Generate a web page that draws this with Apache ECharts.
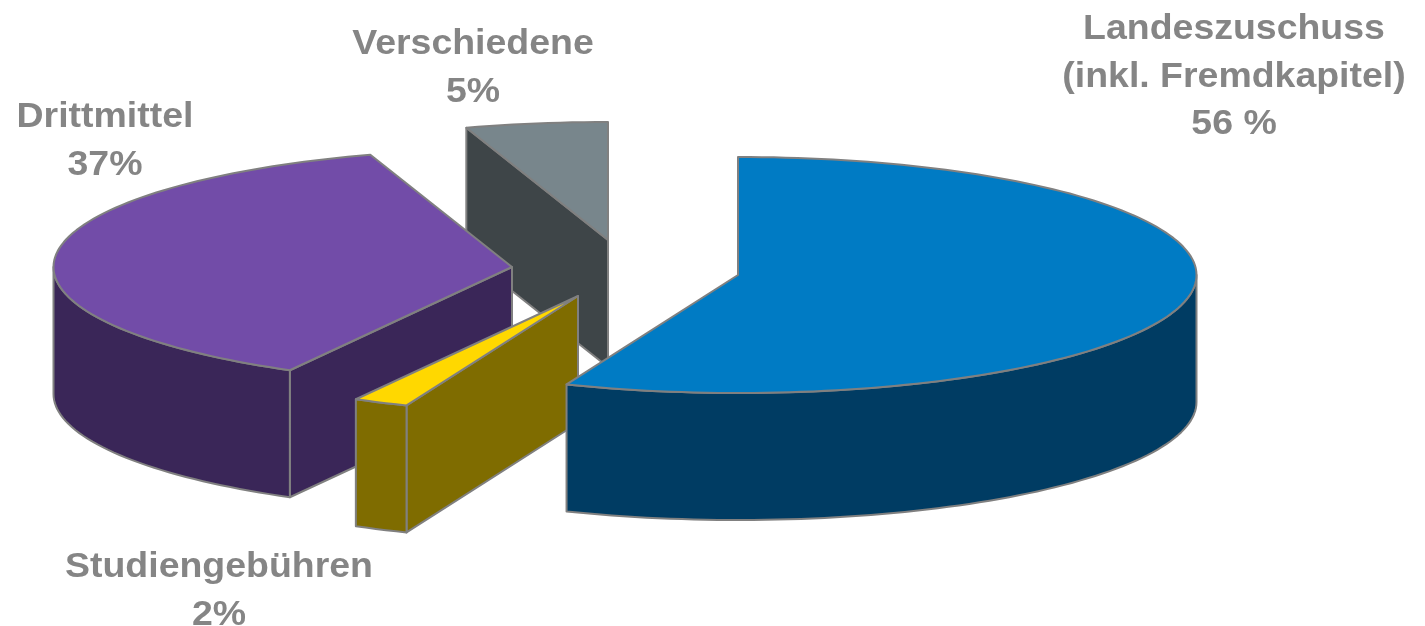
<!DOCTYPE html>
<html><head><meta charset="utf-8">
<style>html,body{margin:0;padding:0;background:#fff}#c{width:1425px;height:626px}</style>
<script src="https://cdn.jsdelivr.net/npm/echarts@6/dist/echarts.min.js"></script>
</head><body><div id="c"></div>
<script>
const categories = ['Landeszuschuss\n(inkl. Fremdkapitel)', 'Studiengebühren', 'Drittmittel', 'Verschiedene'];
const shares = [56.1, 1.95, 36.95, 5.0];
const shareLabels = ['56 %', '2%', '37%', '5%'];

// Styling and layout
const topColors = ['#007bc4', '#ffd800', '#724ca8', '#78868c'];
const sideColors = ['#003c63', '#7f6c00', '#3a2658', '#3e4548'];
const apexes = [[738, 275], [578, 296], [512, 267], [608, 240]];
const labelAnchors = [[1234, 6], [219, 544], [105, 94], [473, 21]];
const rx = 458.5, ry = 118, depth = 127;
const lineStyleColor = '#808080';
const paintOrder = [3, 2, 1, 0];

const total = shares.reduce((a, b) => a + b, 0);
const starts = [];
shares.reduce((acc, v, i) => { starts[i] = acc; return acc + v; }, 0);

function rim(i, t) {
  const r = t * Math.PI / 180;
  return [apexes[i][0] + rx * Math.sin(r), apexes[i][1] - ry * Math.cos(r)];
}
function arc(i, a, b) {
  const pts = [], n = Math.max(2, Math.ceil((b - a) / 1.5));
  for (let k = 0; k <= n; k++) pts.push(rim(i, a + (b - a) * k / n));
  return pts;
}
const drop = p => [p[0], p[1] + depth];
function face(points, fill) {
  return { type: 'polygon', shape: { points }, style: { fill, stroke: lineStyleColor, lineWidth: 2, lineJoin: 'round' } };
}

function renderItem(params, api) {
  const i = api.value(0);
  const a = starts[i] / total * 360, b = (starts[i] + shares[i]) / total * 360;
  const apex = apexes[i], children = [];
  const cut = t => {
    const p = rim(i, t);
    children.push(face([apex, p, drop(p), drop(apex)], sideColors[i]));
  };
  if (Math.sin(a * Math.PI / 180) < -1e-6) cut(a);
  if (Math.sin(b * Math.PI / 180) > 1e-6) cut(b);
  const lo = Math.max(a, 90), hi = Math.min(b, 270);
  if (hi > lo) {
    const outer = arc(i, lo, hi);
    children.push(face(outer.concat(outer.map(drop).reverse()), sideColors[i]));
  }
  children.push(face([apex].concat(arc(i, a, b)), topColors[i]));
  children.push({
    type: 'text',
    x: labelAnchors[i][0], y: labelAnchors[i][1],
    scaleX: 1.07,
    style: {
      x: 0, y: 0,
      text: categories[i] + '\n' + shareLabels[i],
      align: 'center', verticalAlign: 'top',
      font: 'bold 35px "Liberation Sans", Arial, sans-serif',
      lineHeight: 47.5, fill: '#858585'
    }
  });
  return { type: 'group', children };
}

const chart = echarts.init(document.getElementById('c'), null, { renderer: 'canvas' });
chart.setOption({
  animation: false,
  backgroundColor: '#ffffff',
  series: [{
    type: 'custom',
    coordinateSystem: 'none',
    renderItem,
    silent: true,
    data: paintOrder.map(i => [i, shares[i]])
  }]
});
</script></body></html>
